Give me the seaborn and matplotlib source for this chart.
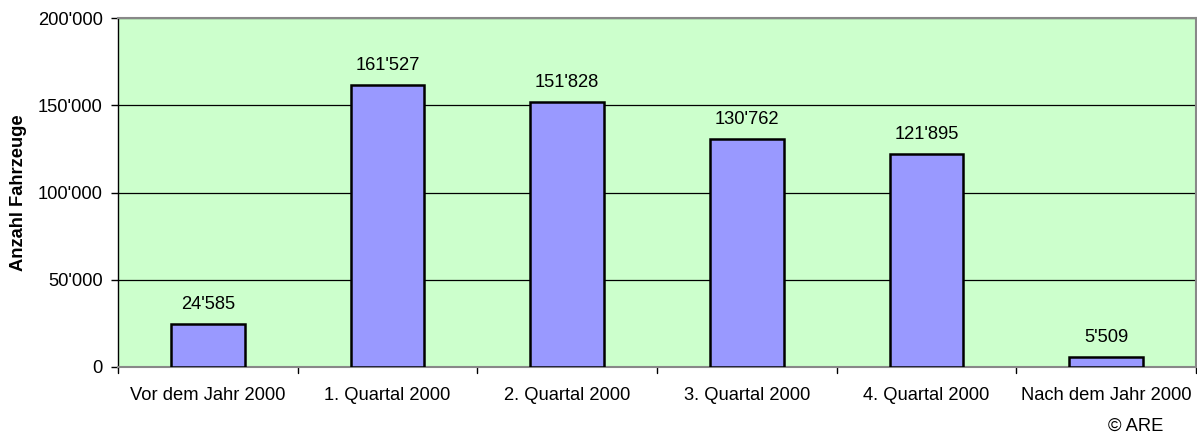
#=====IMPORT LIBRARIES=====
import matplotlib
matplotlib.use('Agg')
import matplotlib.pyplot as plt
from matplotlib.ticker import FuncFormatter
import pandas as pd
import seaborn as sns

#=====DATA=====
categories = ["Vor dem Jahr 2000", "1. Quartal 2000", "2. Quartal 2000",
              "3. Quartal 2000", "4. Quartal 2000", "Nach dem Jahr 2000"]
values = [24585, 161527, 151828, 130762, 121895, 5509]
y_ticks = [0, 50000, 100000, 150000, 200000]

df = pd.DataFrame({"Kategorie": categories, "Anzahl": values})

def swiss(v, pos=None):
    return f"{int(v):,}".replace(",", "'")

#=====STYLE=====
sns.set_style("white")
plt.rcParams['font.family'] = ['Liberation Sans', 'DejaVu Sans']
plt.rcParams['text.color'] = 'black'
plt.rcParams['xtick.color'] = 'black'
plt.rcParams['ytick.color'] = 'black'
plt.rcParams['axes.labelcolor'] = 'black'
FS = 13.2

fig = plt.figure(figsize=(11.97, 4.34), dpi=100)
ax = fig.add_axes([0.0986, 0.1544, 0.9004, 0.8041])
ax.set_facecolor("#CCFFCC")

sns.barplot(data=df, x="Kategorie", y="Anzahl", color="#9999FF",
            saturation=1, width=0.41, edgecolor="black", linewidth=1.8, ax=ax, zorder=3)

ax.set_ylim(0, 200000)
ax.set_yticks(y_ticks)
ax.yaxis.set_major_formatter(FuncFormatter(swiss))
ax.grid(axis="y", color="black", linewidth=0.9, zorder=0)
ax.set_axisbelow(True)

# tick marks between categories on x axis
ax.set_xlim(-0.5, len(categories) - 0.5)
ax.set_xticks(range(len(categories)))
ax.set_xticklabels(categories)
ax.tick_params(axis="x", length=0, pad=14.5, labelsize=FS)
ax.tick_params(axis="y", length=5, width=1, direction="out", labelsize=FS, left=True, pad=6)
for b in range(len(categories) + 1):
    ax.plot([b - 0.5, b - 0.5], [0, -0.018], color="black", lw=1,
            transform=ax.get_xaxis_transform(), clip_on=False)

ax.set_xlabel("")
ax.set_ylabel("Anzahl Fahrzeuge", fontsize=FS, fontweight="bold", labelpad=8)

for sp in ["top", "right", "bottom"]:
    ax.spines[sp].set_color("#888888")
    ax.spines[sp].set_linewidth(1.5)
ax.spines["left"].set_color("black")
ax.spines["left"].set_linewidth(1)

#=====LABELS=====
for i, v in enumerate(values):
    ax.annotate(swiss(v), (i, v), xytext=(0, 8), textcoords="offset points",
                ha="center", va="bottom", fontsize=FS)

fig.text(0.9716, 0.018, "© ARE", ha="right", va="center", fontsize=FS)

fig.savefig("out.png", dpi=100)
